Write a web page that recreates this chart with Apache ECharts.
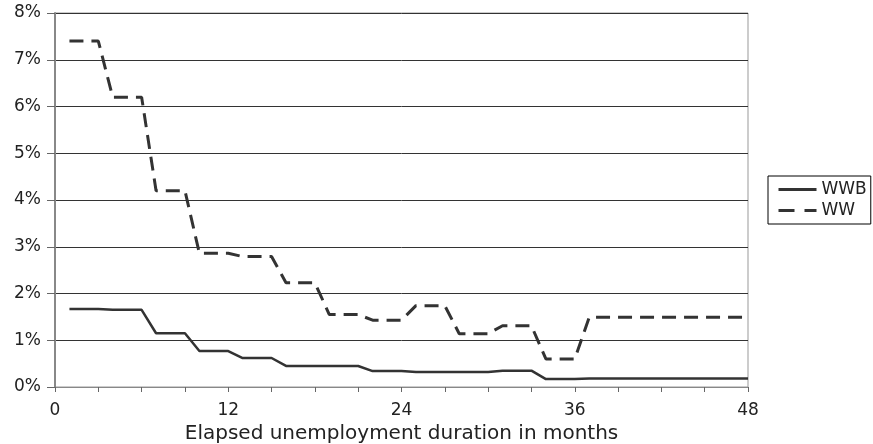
<!DOCTYPE html>
<html>
<head>
<meta charset="utf-8">
<script src="https://cdn.jsdelivr.net/npm/echarts@6/dist/echarts.min.js"></script>
<style>html,body{margin:0;padding:0;background:#fff}#c{width:873px;height:444px}</style>
</head>
<body>
<div id="c"></div>
<script>
var months = [1,2,3,4,5,6,7,8,9,10,11,12,13,14,15,16,17,18,19,20,21,22,23,24,25,26,27,28,29,30,31,32,33,34,35,36,37,38,39,40,41,42,43,44,45,46,47,48];
var wwb = [1.67,1.67,1.67,1.65,1.65,1.65,1.15,1.15,1.15,0.77,0.77,0.77,0.62,0.62,0.62,0.45,0.45,0.45,0.45,0.45,0.45,0.34,0.34,0.34,0.32,0.32,0.32,0.32,0.32,0.32,0.35,0.35,0.35,0.17,0.17,0.17,0.18,0.18,0.18,0.18,0.18,0.18,0.18,0.18,0.18,0.18,0.18,0.18];
var ww = [7.4,7.4,7.4,6.2,6.2,6.2,4.2,4.2,4.2,2.86,2.86,2.86,2.79,2.79,2.79,2.23,2.23,2.23,1.55,1.55,1.55,1.43,1.43,1.43,1.74,1.74,1.74,1.14,1.14,1.14,1.31,1.31,1.31,0.6,0.6,0.6,1.49,1.49,1.49,1.49,1.49,1.49,1.49,1.49,1.49,1.49,1.49,1.49];
var xLabels = [0,12,24,36,48];
var seriesNames = ['WWB','WW'];
var xTitle = 'Elapsed unemployment duration in months';

function pairs(v){ return months.map(function(m,i){ return [m, v[i]]; }); }
var font = 'DejaVu Sans, Liberation Sans, Arial, sans-serif';
var chart = echarts.init(document.getElementById('c'));
chart.setOption({
  animation: false,
  backgroundColor: '#fff',
  grid: { left: 55, right: 125, top: 13, bottom: 57, show: true, borderColor: '#999', borderWidth: 1,
    containLabel: false, outerBoundsMode: 'none' },
  legend: {
    orient: 'vertical', left: 768, top: 176,
    data: [{ name: seriesNames[0] }, { name: seriesNames[1], lineStyle: { type: [16, 10] } }],
    borderColor: '#000', borderWidth: 1, borderRadius: 0, padding: [5, 4, 5, 9],
    itemWidth: 38, itemHeight: 14, itemGap: 4,
    itemStyle: { opacity: 0 },
    lineStyle: { width: 3 },
    textStyle: { fontFamily: font, fontSize: 17, color: '#222' }
  },
  xAxis: {
    type: 'value', min: 0, max: 48, interval: 3,
    axisLine: { show: true, lineStyle: { color: '#888', width: 1 } },
    axisTick: { show: true, length: 5, lineStyle: { color: '#666' } },
    splitLine: { show: false },
    axisLabel: { fontFamily: font, fontSize: 17, color: '#222', margin: 15,
      formatter: function(v){ return xLabels.indexOf(v) >= 0 ? String(v) : ''; } },
    name: xTitle, nameLocation: 'middle', nameGap: 37,
    nameTextStyle: { fontFamily: font, fontSize: 20, color: '#222' }
  },
  yAxis: {
    type: 'value', min: 0, max: 8, interval: 1,
    axisLine: { show: true, lineStyle: { color: '#888', width: 2 } },
    axisTick: { show: true, length: 8, lineStyle: { color: '#666' } },
    splitLine: { show: true, lineStyle: { color: '#333', width: 1 } },
    axisLabel: { fontFamily: font, fontSize: 17, color: '#222', margin: 14,
      formatter: function(v){ return v + '%'; } }
  },
  series: [
    { name: seriesNames[0], type: 'line', data: pairs(wwb), symbol: 'none',
      lineStyle: { color: '#333', width: 2.5 }, itemStyle: { color: '#333' } },
    { name: seriesNames[1], type: 'line', data: pairs(ww), symbol: 'none',
      lineStyle: { color: '#333', width: 3, type: [14, 8] }, itemStyle: { color: '#333' } }
  ]
});
</script>
</body>
</html>
